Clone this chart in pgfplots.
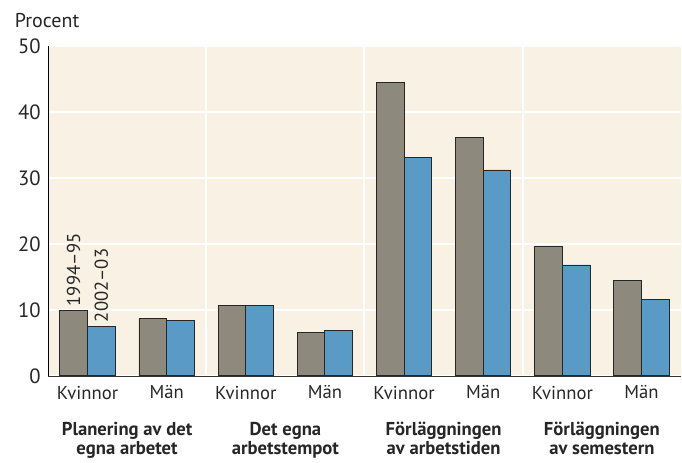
\documentclass[border=0pt]{standalone}
\usepackage{fontspec}
\setmainfont{PT Sans}
\usepackage{pgfplots}
\pgfplotsset{compat=1.18}

\definecolor{bg}{HTML}{FAF1E5}
\definecolor{grau}{HTML}{8E897D}
\definecolor{blau}{HTML}{5A9AC7}

\begin{document}
\begin{tikzpicture}[font=\fontsize{14}{14.5}\selectfont,
  grp/.style={anchor=north, align=center, font=\fontsize{14}{14.5}\selectfont\bfseries,
              text=black!85, yshift=-31pt}]
  \begin{axis}[
    width=475pt, height=247.5pt, scale only axis,
    xmin=0, xmax=16, ymin=0, ymax=50,
    ybar=0pt, bar width=0.7,
    axis lines=left,
    axis line style={-},
    x axis line style={draw=black!80},
    axis background/.style={fill=bg},
    xtick={1,3,5,7,9,11,13,15},
    xticklabels={Kvinnor,Män,Kvinnor,Män,Kvinnor,Män,Kvinnor,Män},
    ytick={0,10,20,30,40,50},
    major tick length=0pt,
    ymajorgrids=true,
    major grid style={white, line width=1.1pt},
    extra x ticks={4,8,12},
    extra x tick labels={},
    extra x tick style={grid=major, major grid style={white, line width=1.5pt}},
    xticklabel style={yshift=-4pt, text=black!85},
    yticklabel style={xshift=-2pt, text=black!85, font=\fontsize{15.5}{16}\selectfont},
    /pgf/number format/assume math mode=true,
    clip=false,
  ]
    % 1994-95
    \addplot[fill=grau, draw=black!85, line width=0.7pt] coordinates {
      (1,9.9) (3,8.7) (5,10.6) (7,6.5) (9,44.5) (11,36.2) (13,19.6) (15,14.5)};
    % 2002-03
    \addplot[fill=blau, draw=black!85, line width=0.7pt] coordinates {
      (1,7.5) (3,8.4) (5,10.6) (7,6.8) (9,33.1) (11,31.2) (13,16.8) (15,11.5)};

    \node[rotate=90, anchor=west, text=black!85, inner sep=3pt] at (axis cs:0.65,9.9) {1994–95};
    \node[rotate=90, anchor=west, text=black!85, inner sep=3pt] at (axis cs:1.35,7.5) {2002–03};

    \node[grp] at (axis cs:2,0) {Planering av det\\egna arbetet};
    \node[grp] at (axis cs:6,0) {Det egna\\arbetstempot};
    \node[grp] at (axis cs:10,0) {Förläggningen\\av arbetstiden};
    \node[grp] at (axis cs:14,0) {Förläggningen\\av semestern};

    \node[anchor=base west, text=black!85, inner sep=0pt, font=\fontsize{15}{16}\selectfont]
      at (rel axis cs:0,1) [xshift=-25pt, yshift=14pt] {Procent};

    % invisible frame giving the page the reference's margins
    \path (rel axis cs:0,1) ++(-36pt,34.5pt) coordinate (tl);
    \path (rel axis cs:1,0) ++(0.75pt,-61.5pt) coordinate (br);
    \path (tl) rectangle (br);
  \end{axis}
\end{tikzpicture}
\end{document}
